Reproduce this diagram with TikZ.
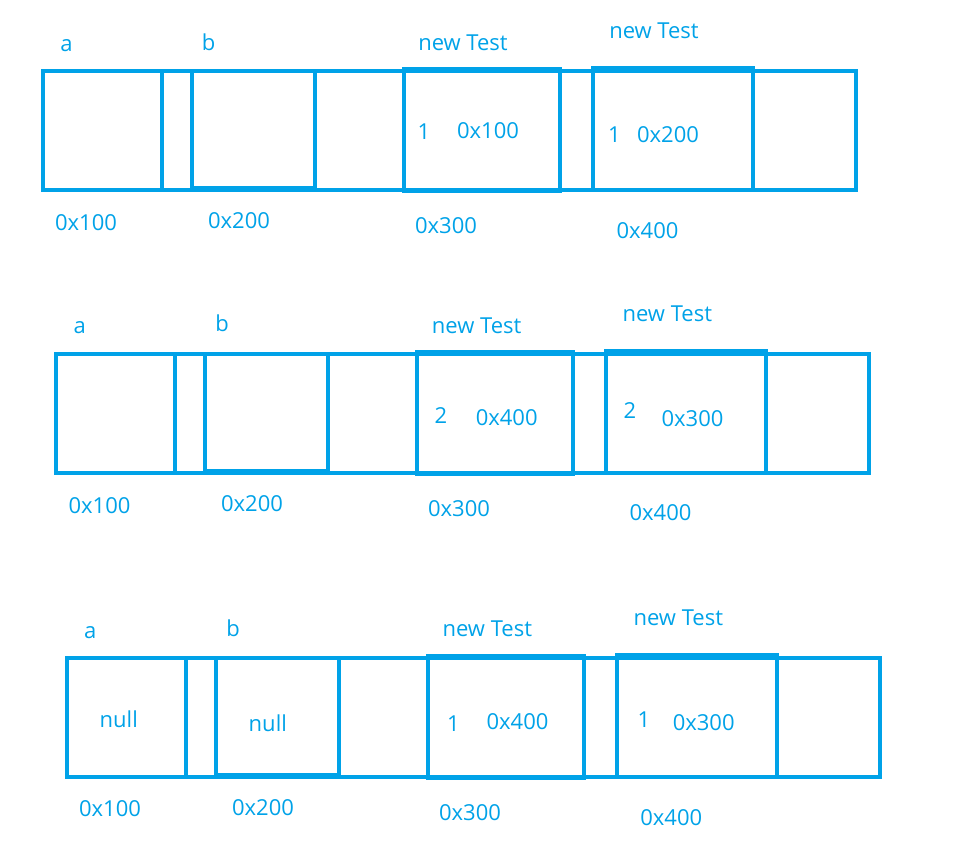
\documentclass[tikz,border=0pt]{standalone}
\usepackage{fontspec}
\newfontfamily\lblfont{Open Sans}
\usetikzlibrary{fit}
\definecolor{tblue}{RGB}{0,162,232}
\tikzset{
  strip/.style={draw=tblue, line width=3.2pt, inner sep=0pt, outer sep=0pt},
  box/.style={draw=tblue, line width=4.4pt, inner sep=0pt, outer sep=0pt},
  lbl/.style={text=tblue, inner sep=0pt, anchor=base, font=\lblfont\fontsize{22}{26}\selectfont}
}
\begin{document}
\begin{tikzpicture}[x=1pt,y=-1pt]
\useasboundingbox (0,0) rectangle (958,858);
% ---------- row 1 ----------
\node[strip, fit={(43,71) (856,190)}] (s1) {};
\node[box, fit={(43,71) (162,190)}] (a1) {};
\node[box, fit={(192,71) (315,188)}] (b1) {};
\node[box, fit={(404,69) (560,191)}] (c1) {};
\node[box, fit={(593,68) (753,190)}] (d1) {};
\node[lbl] (la1) at (66.5,52) {a};
\node[lbl] (lb1) at (208.5,50.7) {b};
\node[lbl] (lc1) at (463,50.7) {new Test};
\node[lbl] (ld1) at (654,39) {new Test};
\node[lbl] (nc1) at (424,139.3) {1};
\node[lbl] (vc1) at (488,138.3) {0x100};
\node[lbl] (nd1) at (614.5,142.7) {1};
\node[lbl] (vd1) at (668,142.7) {0x200};
\node[lbl] (ma1) at (86,231) {0x100};
\node[lbl] (mb1) at (239,229) {0x200};
\node[lbl] (mc1) at (446,233.3) {0x300};
\node[lbl] (md1) at (647.5,238.3) {0x400};
% ---------- row 2 ----------
\node[strip, fit={(56,354) (869,473)}] (s2) {};
\node[box, fit={(56,354) (175,473)}] (a2) {};
\node[box, fit={(205,354) (328,471)}] (b2) {};
\node[box, fit={(417,352) (573,474)}] (c2) {};
\node[box, fit={(606,351) (766,473)}] (d2) {};
\node[lbl] (la2) at (79.7,334) {a};
\node[lbl] (lb2) at (222,331.7) {b};
\node[lbl] (lc2) at (476.7,333.3) {new Test};
\node[lbl] (ld2) at (667.3,321.7) {new Test};
\node[lbl] (nc2) at (441,423.3) {2};
\node[lbl] (vc2) at (506.7,425.7) {0x400};
\node[lbl] (nd2) at (630,418.3) {2};
\node[lbl] (vd2) at (692.5,426.7) {0x300};
\node[lbl] (ma2) at (99.5,513.3) {0x100};
\node[lbl] (mb2) at (252,511) {0x200};
\node[lbl] (mc2) at (459,516.7) {0x300};
\node[lbl] (md2) at (660.5,520.7) {0x400};
% ---------- row 3 ----------
\node[strip, fit={(67,658) (880,777)}] (s3) {};
\node[box, fit={(67,658) (186,777)}] (a3) {};
\node[box, fit={(216,658) (339,775)}] (b3) {};
\node[box, fit={(428,656) (584,778)}] (c3) {};
\node[box, fit={(617,655) (777,777)}] (d3) {};
\node[lbl] (la3) at (90.3,638.3) {a};
\node[lbl] (lb3) at (233,636.7) {b};
\node[lbl] (lc3) at (487.3,636.7) {new Test};
\node[lbl] (ld3) at (678.3,625.7) {new Test};
\node[lbl] (va3) at (118.8,727.3) {null};
\node[lbl] (vb3) at (267.8,731.7) {null};
\node[lbl] (nc3) at (453.3,731.7) {1};
\node[lbl] (vc3) at (517.5,729.3) {0x400};
\node[lbl] (nd3) at (644,727.3) {1};
\node[lbl] (vd3) at (703.7,730) {0x300};
\node[lbl] (ma3) at (110,816.7) {0x100};
\node[lbl] (mb3) at (263,815) {0x200};
\node[lbl] (mc3) at (470,820) {0x300};
\node[lbl] (md3) at (671.3,825) {0x400};
\end{tikzpicture}
\end{document}
